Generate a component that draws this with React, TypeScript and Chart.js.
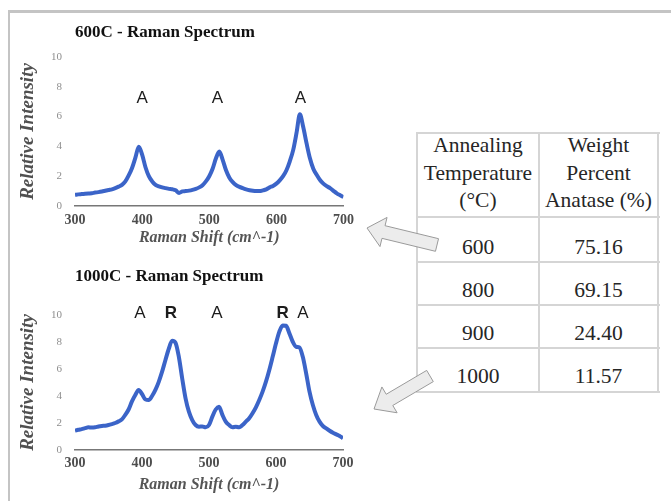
import React, { useEffect, useRef } from "react";
import { Chart, registerables } from "chart.js";

Chart.register(...registerables);

const SERIF = '"Liberation Serif", "Times New Roman", serif';
const SANS = '"Liberation Sans", Arial, sans-serif';

// ---------- data ----------
const shifts = [
  300, 305, 310, 315, 320, 325, 330, 335, 340, 345,
  350, 355, 360, 365, 370, 375, 380, 385, 390, 395,
  400, 405, 410, 415, 420, 425, 430, 435, 440, 445,
  450, 455, 460, 465, 470, 475, 480, 485, 490, 495,
  500, 505, 510, 515, 520, 525, 530, 535, 540, 545,
  550, 555, 560, 565, 570, 575, 580, 585, 590, 595,
  600, 605, 610, 615, 620, 625, 630, 635, 640, 645,
  650, 655, 660, 665, 670, 675, 680, 685, 690, 695,
  700,
];

const intensity600 = [
  0.75, 0.78, 0.8, 0.82, 0.84, 0.86, 0.9, 0.93, 0.97, 1.02,
  1.07, 1.12, 1.2, 1.3, 1.42, 1.65, 2.05, 2.55, 3.25, 3.98,
  3.45, 2.6, 2.0, 1.65, 1.42, 1.32, 1.25, 1.2, 1.15, 1.12,
  1.05, 0.88, 0.98, 1.0, 1.03, 1.08, 1.15, 1.25, 1.4, 1.65,
  2.0, 2.5, 3.2, 3.65, 3.1, 2.4, 1.9, 1.6, 1.4, 1.28,
  1.2, 1.12, 1.06, 1.02, 1.0, 1.0, 1.05, 1.12, 1.25, 1.35,
  1.5, 1.72, 2.0, 2.4, 3.0, 3.75, 4.9, 6.15, 5.3, 4.2,
  3.2, 2.5, 2.1, 1.75, 1.5, 1.33, 1.2, 1.02, 0.85, 0.72,
  0.6,
];

const intensity1000 = [
  1.43, 1.5, 1.55, 1.62, 1.68, 1.66, 1.68, 1.74, 1.78, 1.8,
  1.85, 1.92, 2.0, 2.12, 2.27, 2.6, 3.0, 3.6, 4.07, 4.45,
  4.15, 3.75, 3.7, 4.0, 4.45, 5.05, 5.8, 6.67, 7.5, 8.1,
  7.95, 6.9, 5.3, 3.83, 2.84, 2.22, 1.85, 1.73, 1.75, 1.68,
  1.85, 2.47, 3.0, 3.2, 2.6, 2.1, 1.85, 1.68, 1.73, 1.68,
  1.85, 2.1, 2.35, 2.72, 3.16, 3.7, 4.32, 5.06, 5.93, 6.9,
  7.9, 8.77, 9.22, 9.2, 8.64, 8.02, 7.65, 7.6, 6.9, 5.68,
  4.32, 3.33, 2.6, 2.1, 1.78, 1.6, 1.43, 1.28, 1.16, 1.04,
  0.87,
];

const peaks600Letters = ["A", "A", "A"];
const peaks600Shift = [400, 512, 636];
const peaks600Height = [7.25, 7.25, 7.25];

const peaks1000Letters = ["A", "R", "A", "R", "A"];
const peaks1000Shift = [397, 443, 512, 610, 640];
const peaks1000Height = [10.15, 10.15, 10.15, 10.15, 10.15];

const tableHeaders = [
  ["Annealing", "Temperature", "(°C)"],
  ["Weight", "Percent", "Anatase (%)"],
];
const temperatures = ["600", "800", "900", "1000"];
const anatasePercent = ["75.16", "69.15", "24.40", "11.57"];

// ---------- chart ----------
type SpecProps = {
  left: number;
  top: number;
  width: number;
  height: number;
  title: string;
  values: number[];
  letters: string[];
  letterX: number[];
  letterY: number[];
  titlePadTop: number;
  titlePadBottom: number;
  xHeight: number;
  xTickPad: number;
  xTitlePadBottom: number;
  padRight: number;
};

function Spectrum(p: SpecProps) {
  const ref = useRef<HTMLCanvasElement | null>(null);
  useEffect(() => {
    if (!ref.current) return;
    const labelPlugin = {
      id: "peakLabels",
      afterDatasetsDraw(chart: any) {
        const { ctx, scales } = chart;
        ctx.save();
        ctx.textAlign = "center";
        ctx.textBaseline = "middle";
        ctx.fillStyle = "#1c1c1c";
        p.letters.forEach((t, i) => {
          ctx.font = `${t === "R" ? "bold " : ""}17px ${SANS}`;
          ctx.fillText(
            t,
            scales.x.getPixelForValue(p.letterX[i]),
            scales.y.getPixelForValue(p.letterY[i])
          );
        });
        ctx.restore();
      },
    };
    const chart = new Chart(ref.current, {
      type: "line",
      data: {
        datasets: [
          {
            data: shifts.map((s, i) => ({ x: s, y: p.values[i] })),
            borderColor: "#3b64c8",
            borderWidth: 4,
            pointRadius: 0,
            cubicInterpolationMode: "monotone",
            fill: false,
          },
        ],
      },
      options: {
        responsive: false,
        animation: false,
        devicePixelRatio: 1,
        layout: { padding: { left: 13, right: p.padRight, top: 0, bottom: 0 } },
        plugins: {
          legend: { display: false },
          tooltip: { enabled: false },
          title: {
            display: true,
            text: p.title,
            align: "start",
            fullSize: false,
            color: "#111",
            font: { family: SERIF, size: 17, weight: "bold" },
            padding: { top: p.titlePadTop, bottom: p.titlePadBottom },
          },
        },
        scales: {
          x: {
            type: "linear",
            min: 300,
            max: 700,
            ticks: {
              stepSize: 100,
              color: "#4d4d4d",
              padding: p.xTickPad,
              font: { family: SERIF, size: 14, weight: "bold" },
            },
            grid: { display: false, drawTicks: false },
            border: { display: true, color: "#777", width: 1.5 },
            title: {
              display: true,
              text: "Raman Shift (cm^-1)",
              color: "#555",
              font: { family: SERIF, size: 16, weight: "bold", style: "italic" },
              padding: { top: 0, bottom: p.xTitlePadBottom },
            },
            afterFit: (s: any) => {
              s.height = p.xHeight;
            },
          },
          y: {
            min: 0,
            max: 10,
            ticks: {
              stepSize: 2,
              color: "#8e8e8e",
              padding: 13,
              font: { family: SERIF, size: 11 },
            },
            grid: { display: false, drawTicks: false },
            border: { display: false },
            title: {
              display: true,
              text: "Relative Intensity",
              color: "#505050",
              font: { family: SERIF, size: 19, weight: "bold", style: "italic" },
              padding: { top: 4, bottom: 0 },
            },
            afterFit: (s: any) => {
              s.width = 62;
            },
          },
        },
      } as any,
      plugins: [labelPlugin],
    } as any);
    return () => chart.destroy();
  }, []);
  return (
    <canvas
      ref={ref}
      width={p.width}
      height={p.height}
      style={{ position: "absolute", left: p.left, top: p.top, width: p.width, height: p.height }}
    />
  );
}

// ---------- arrows ----------
function arrowPoints(tx: number, ty: number, cx: number, cy: number, sw: number, hl: number, hw: number) {
  const dx = tx - cx;
  const dy = ty - cy;
  const len = Math.hypot(dx, dy);
  const ux = dx / len;
  const uy = dy / len;
  const nx = -uy;
  const ny = ux;
  const bx = tx - ux * hl;
  const by = ty - uy * hl;
  const pts = [
    [cx + (nx * sw) / 2, cy + (ny * sw) / 2],
    [bx + (nx * sw) / 2, by + (ny * sw) / 2],
    [bx + (nx * hw) / 2, by + (ny * hw) / 2],
    [tx, ty],
    [bx - (nx * hw) / 2, by - (ny * hw) / 2],
    [bx - (nx * sw) / 2, by - (ny * sw) / 2],
    [cx - (nx * sw) / 2, cy - (ny * sw) / 2],
  ];
  return pts.map((q) => q.join(",")).join(" ");
}

// ---------- table ----------
const TL = 417;
const TM = 539;
const TR = 658;
const rowLines = [133, 217, 262, 305, 348, 392];
const rowBaselines = [255, 298, 341, 384];
const LINE = "#d5d5d5";

function DataTable() {
  const textStyle: React.CSSProperties = {
    position: "absolute",
    fontFamily: SERIF,
    fontSize: 21.5,
    lineHeight: "27.7px",
    color: "#262626",
    textAlign: "center",
    whiteSpace: "nowrap",
  };
  const cols = [
    [TL, TM],
    [TM, TR],
  ];
  return (
    <>
      {rowLines.map((y, i) => (
        <div
          key={"h" + i}
          style={{ position: "absolute", left: TL, top: y - 1, width: TR - TL + 2, height: 2, background: LINE }}
        />
      ))}
      {[TL, TM, TR].map((x, i) => (
        <div
          key={"v" + i}
          style={{ position: "absolute", left: x - 1, top: rowLines[0] - 1, width: 2, height: rowLines[5] - rowLines[0] + 2, background: LINE }}
        />
      ))}
      {tableHeaders.map((lines, c) => (
        <div key={"th" + c} style={{ ...textStyle, left: cols[c][0], width: cols[c][1] - cols[c][0], top: 132 }}>
          {lines.map((l, k) => (
            <div key={k}>{l}</div>
          ))}
        </div>
      ))}
      {temperatures.map((t, r) => (
        <div key={"t" + r} style={{ ...textStyle, left: cols[0][0], width: cols[0][1] - cols[0][0], top: rowBaselines[r] - 21 }}>
          {t}
        </div>
      ))}
      {anatasePercent.map((t, r) => (
        <div key={"a" + r} style={{ ...textStyle, left: cols[1][0], width: cols[1][1] - cols[1][0], top: rowBaselines[r] - 21 }}>
          {t}
        </div>
      ))}
    </>
  );
}

export default function App() {
  return (
    <div
      style={{
        position: "fixed",
        left: 0,
        top: 0,
        width: 671,
        height: 501,
        background: "#fff",
        overflow: "hidden",
      }}
    >
      <div
        style={{
          position: "absolute",
          left: 8,
          top: 10,
          width: 720,
          height: 600,
          borderLeft: "2px solid #c4c4c4",
          borderTop: "3px solid #c4c4c4",
        }}
      />
      <Spectrum
        left={0}
        top={15}
        width={360}
        height={243}
        title="600C - Raman Spectrum"
        values={intensity600}
        letters={peaks600Letters}
        letterX={peaks600Shift}
        letterY={peaks600Height}
        titlePadTop={7.8}
        titlePadBottom={13.8}
        xHeight={52}
        xTickPad={6}
        xTitlePadBottom={10.4}
        padRight={16}
      />
      <Spectrum
        left={0}
        top={258}
        width={360}
        height={242}
        title="1000C - Raman Spectrum"
        values={intensity1000}
        letters={peaks1000Letters}
        letterX={peaks1000Shift}
        letterY={peaks1000Height}
        titlePadTop={8.8}
        titlePadBottom={27.8}
        xHeight={50}
        xTickPad={5}
        xTitlePadBottom={5.4}
        padRight={17}
      />
      <DataTable />
      <svg width={671} height={501} style={{ position: "absolute", left: 0, top: 0 }}>
        <polygon points={arrowPoints(367, 228, 437, 245, 13, 17, 30)} fill="#ececec" stroke="#9a9a9a" strokeWidth={1} />
        <polygon points={arrowPoints(374, 409, 430, 376, 13, 18, 30)} fill="#ececec" stroke="#9a9a9a" strokeWidth={1} />
      </svg>
    </div>
  );
}
